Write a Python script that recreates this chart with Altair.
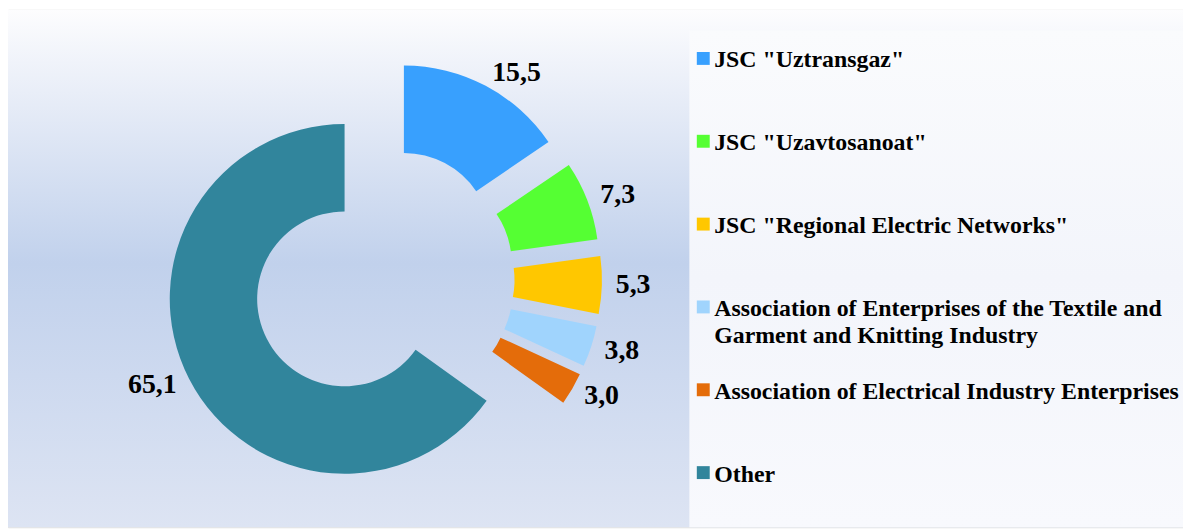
import math
import altair as alt
import pandas as pd

# ---------------- data ----------------
names = [
    'JSC "Uztransgaz"',
    'JSC "Uzavtosanoat"',
    'JSC "Regional Electric Networks"',
    'Association of Enterprises of the Textile and|Garment and Knitting Industry',
    'Association of Electrical Industry Enterprises',
    'Other',
]
values = [15.5, 7.3, 5.3, 3.8, 3.0, 65.1]
colors = ['#38A0FE', '#55FF33', '#FFC700', '#A0D4FD', '#E46C0A', '#31859C']

df = pd.DataFrame({'name': names, 'value': values, 'order': list(range(len(names)))})

# ---------------- layout (styling constants) ----------------
W, H = 1183, 521
CX, CY = 378, 271            # common centre of the exploded doughnut
R_OUT, R_IN = 176, 88
EXPLODE = 44
LABEL_GAP = 14
SERIF = 'Liberation Serif, Times New Roman, Times, DejaVu Serif, serif'

xs = alt.Scale(domain=[-CX, W - CX], nice=False, zero=False)
ys = alt.Scale(domain=[-CY, H - CY], nice=False, zero=False, reverse=True)
ts = alt.Scale(domain=[0, 1], range=[0, 2 * math.pi])

base = (
    alt.Chart(df)
    .transform_window(cum='sum(value)', sort=[alt.SortField('order')], frame=[None, 0])
    .transform_joinaggregate(total='sum(value)')
    .transform_calculate(
        f0='(datum.cum - datum.value) / datum.total',
        f1='datum.cum / datum.total',
        mid='PI * (2 * datum.cum - datum.value) / datum.total',
    )
    .transform_calculate(
        cx=f'{EXPLODE} * sin(datum.mid)',
        cy=f'-{EXPLODE} * cos(datum.mid)',
        label="replace(format(datum.value, '.1f'), '.', ',')",
    )
    .transform_calculate(
        lx=f'datum.cx + {R_OUT + LABEL_GAP} * sin(datum.mid)',
        ly=f'datum.cy - {R_OUT + LABEL_GAP} * cos(datum.mid)',
    )
)

color = alt.Color('name:N', scale=alt.Scale(domain=names, range=colors), legend=None)

# background panel (gradient)
bg_grad = alt.LinearGradient(
    gradient='linear', x1=0, x2=0, y1=0, y2=1,
    stops=[
        alt.GradientStop(offset=0, color='#fdfdfe'),
        alt.GradientStop(offset=0.1, color='#f0f3fa'),
        alt.GradientStop(offset=0.49, color='#c1d1ec'),
        alt.GradientStop(offset=1, color='#dde4f3'),
    ],
)
panel = alt.Chart(pd.DataFrame({'k': [0]})).mark_rect(fill=bg_grad).encode(
    x=alt.value(0), x2=alt.value(W), y=alt.value(0), y2=alt.value(H)
)

leg_grad = alt.LinearGradient(
    gradient='linear', x1=0, x2=0, y1=0, y2=1,
    stops=[
        alt.GradientStop(offset=0, color='#fafbfd'),
        alt.GradientStop(offset=0.5, color='#f3f5fb'),
        alt.GradientStop(offset=1, color='#f8f9fd'),
    ],
)
legend_box = alt.Chart(pd.DataFrame({'k': [0]})).mark_rect(fill=leg_grad).encode(
    x=alt.value(686), x2=alt.value(W), y=alt.value(21), y2=alt.value(H)
)

arcs = base.mark_arc(outerRadius=R_OUT, innerRadius=R_IN).encode(
    x=alt.X('cx:Q', scale=xs, axis=None),
    y=alt.Y('cy:Q', scale=ys, axis=None),
    theta=alt.Theta('f0:Q', scale=ts, stack=None),
    theta2='f1:Q',
    color=color,
)

labels = base.mark_text(
    font=SERIF, fontWeight='bold', fontSize=28, color='#000000', baseline='middle',
    align=alt.expr("sin(datum.mid) >= 0 ? 'left' : 'right'"),
).encode(
    x=alt.X('lx:Q', scale=xs, axis=None),
    y=alt.Y('ly:Q', scale=ys, axis=None),
    text='label:N',
)

# ---------------- legend ----------------
leg_y = alt.Scale(domain=[0, 5], range=[58, 475], nice=False, zero=False)
leg_base = alt.Chart(df).transform_calculate(lines="split(datum.name, '|')")

leg_sym = leg_base.mark_square(size=169, opacity=1, yOffset=-9).encode(
    x=alt.value(700),
    y=alt.Y('order:Q', scale=leg_y, axis=None),
    color=color,
)
leg_txt = leg_base.mark_text(
    font=SERIF, fontWeight='bold', fontSize=24, color='#000000',
    align='left', baseline='alphabetic', lineHeight=27,
).encode(
    x=alt.value(711),
    y=alt.Y('order:Q', scale=leg_y, axis=None),
    text=alt.Text('lines:N'),
)

donut = alt.layer(arcs, labels)
legend = alt.layer(leg_sym, leg_txt)

chart = (
    alt.layer(panel, legend_box, donut, legend)
    .resolve_scale(x='independent', y='independent')
    .properties(width=W, height=H, padding=0, autosize=alt.AutoSizeParams(type='none'))
    .configure_view(stroke='transparent')
    .configure(background='white', font=SERIF)
)

chart.save('out.html', embed_options={'renderer': 'svg', 'actions': False})
